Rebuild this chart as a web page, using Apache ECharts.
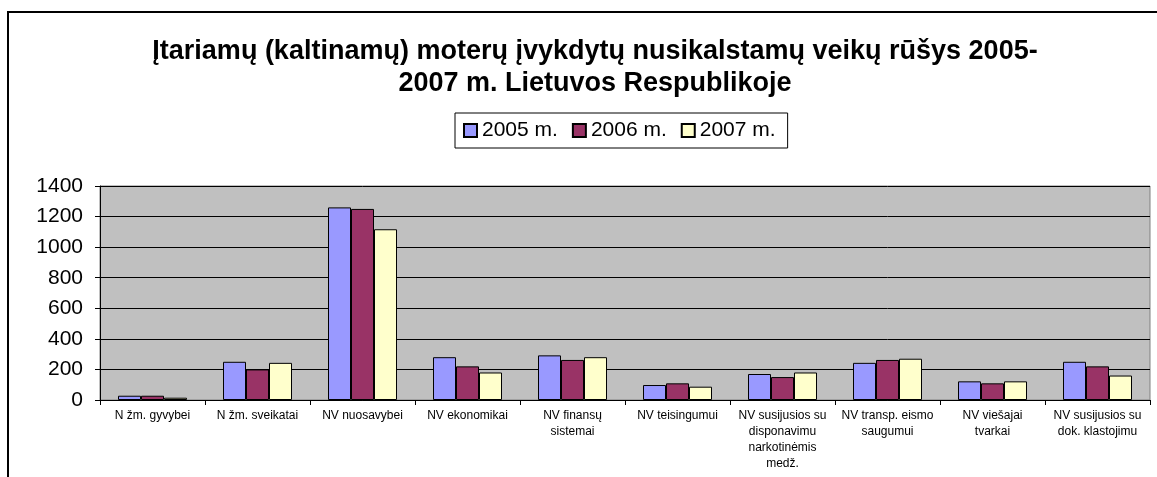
<!DOCTYPE html>
<html>
<head>
<meta charset="utf-8">
<script src="https://cdn.jsdelivr.net/npm/echarts@6/dist/echarts.min.js"></script>
<style>
  html, body { margin: 0; padding: 0; background: #fff; }
  #main { width: 1157px; height: 477px; }
</style>
</head>
<body>
<div id="main"></div>
<script>
// kategorijos (su eilučių laužymais kaip paveiksle)
var categories = [
  'N žm. gyvybei',
  'N žm. sveikatai',
  'NV nuosavybei',
  'NV ekonomikai',
  'NV finansų\nsistemai',
  'NV teisingumui',
  'NV susijusios su\ndisponavimu\nnarkotinėmis\nmedž.',
  'NV transp. eismo\nsaugumui',
  'NV viešajai\ntvarkai',
  'NV susijusios su\ndok. klastojimu'
]
var seriesNames = ['2005 m.', '2006 m.', '2007 m.']
var values2005 = [28, 250, 1260, 280, 292, 98, 170, 243, 122, 250]
var values2006 = [28, 200, 1250, 220, 262, 109, 150, 262, 109, 220]
var values2007 = [15, 243, 1117, 180, 280, 87, 180, 270, 122, 160]
var yTicks = [0, 200, 400, 600, 800, 1000, 1200, 1400]

var colors = ['#9999ff', '#993366', '#ffffcc']
var font = 'Liberation Sans, Arial, sans-serif'

var myChart = echarts.init(document.getElementById('main'))

function makeSeries (name, data, color) {
  return {
    name: name,
    type: 'bar',
    data: data,
    barWidth: 23,
    barGap: '0%',
    itemStyle: { color: color, borderColor: '#000', borderWidth: 1 }
  }
}

var option = {
  animation: false,
  backgroundColor: '#fff',
  graphic: [{
    type: 'rect',
    shape: { x: 8, y: 12, width: 1170, height: 480 },
    style: { fill: 'none', stroke: '#000', lineWidth: 2 },
    silent: true
  }],
  title: {
    text: 'Įtariamų (kaltinamų) moterų įvykdytų nusikalstamų veikų rūšys 2005-\n2007 m. Lietuvos Respublikoje',
    left: 590,
    top: 31,
    textAlign: 'center',
    textStyle: { fontFamily: font, fontSize: 27, fontWeight: 'bold', color: '#000', lineHeight: 32 }
  },
  legend: {
    data: seriesNames,
    left: 455,
    top: 113,
    padding: [7, 12, 7, 8],
    itemGap: 14,
    itemWidth: 13,
    itemHeight: 13,
    icon: 'rect',
    borderColor: '#000',
    borderWidth: 1,
    textStyle: { fontFamily: font, fontSize: 21, color: '#000' }
  },
  grid: {
    left: 100,
    right: 7,
    top: 186,
    height: 214,
    show: true,
    backgroundColor: '#c0c0c0',
    borderColor: '#808080',
    borderWidth: 1,
    containLabel: false
  },
  xAxis: {
    type: 'category',
    data: categories,
    axisLine: { lineStyle: { color: '#000', width: 1 } },
    axisTick: { show: true, length: 5, lineStyle: { color: '#000' } },
    axisLabel: {
      interval: 0,
      fontFamily: font,
      fontSize: 12,
      color: '#000',
      lineHeight: 16,
      margin: 8
    }
  },
  yAxis: {
    type: 'value',
    min: 0,
    max: yTicks[yTicks.length - 1],
    interval: yTicks[1] - yTicks[0],
    axisLine: { show: true, lineStyle: { color: '#000', width: 1 } },
    axisTick: { show: true, length: 5, lineStyle: { color: '#000' } },
    splitLine: { show: true, lineStyle: { color: '#000', width: 1 } },
    axisLabel: {
      fontFamily: font,
      fontSize: 21,
      color: '#000',
      margin: 17,
      formatter: function (v) { return String(v) }
    }
  },
  series: [
    makeSeries(seriesNames[0], values2005, colors[0]),
    makeSeries(seriesNames[1], values2006, colors[1]),
    makeSeries(seriesNames[2], values2007, colors[2])
  ]
}
myChart.setOption(option)
</script>
</body>
</html>
